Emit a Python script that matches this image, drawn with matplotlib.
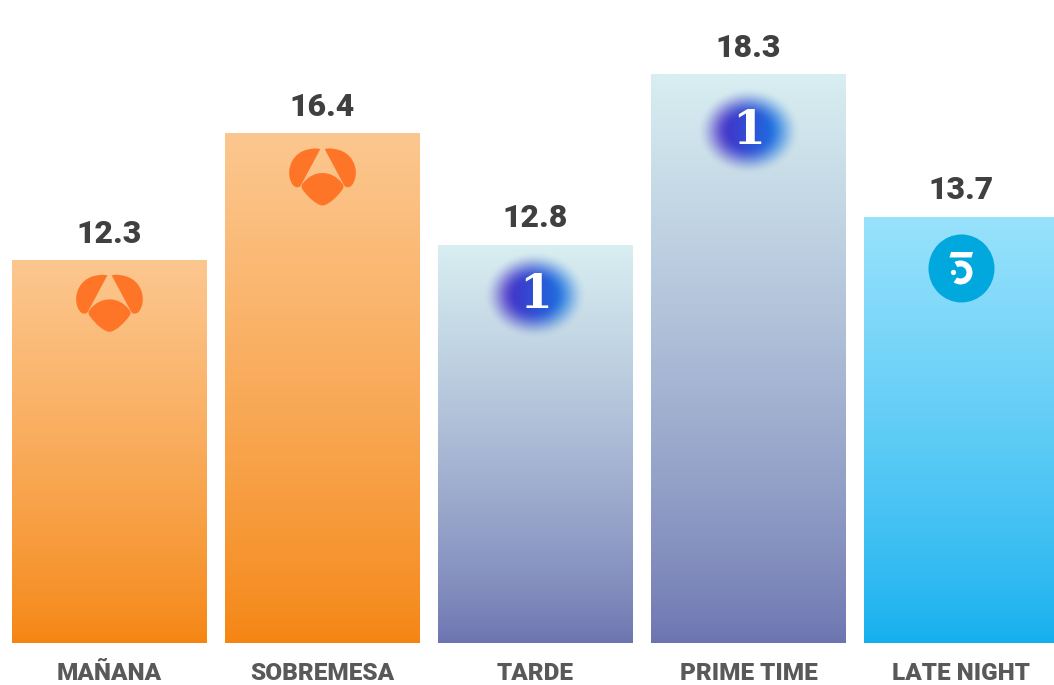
import numpy as np
import matplotlib
matplotlib.use("Agg")
import matplotlib.pyplot as plt
from matplotlib.path import Path
from matplotlib.patches import PathPatch, Ellipse, Wedge, Polygon, Circle

# datos
categories = ["MAÑANA", "SOBREMESA", "TARDE", "PRIME TIME", "LATE NIGHT"]
values = [12.3, 16.4, 12.8, 18.3, 13.7]
channels = ["antena3", "antena3", "la1", "la1", "telecinco"]

# colores del degradado (abajo, arriba) por cadena
grad_colors = {
    "antena3": ((245, 133, 18), (252, 199, 143)),
    "la1": ((108, 116, 176), (216, 238, 241)),
    "telecinco": ((20, 175, 238), (152, 226, 252)),
}
logo_drop = [42, 43, 50, 56, 51]  # px por debajo del borde superior de la barra

W, H = 1054, 685
fig = plt.figure(figsize=(W / 100, H / 100), dpi=100)
ax = fig.add_axes([0, 42 / H, 1, 643 / H])

x = np.arange(len(categories))
bw = 195 / 213
xlim = (-109.5 / 213, (W - 109.5) / 213)
ylim = (0, 643 / 31.06)


def gradient(c_bot, c_top, n=256, g=0.8):
    t = np.linspace(0, 1, n) ** g
    a = np.array(c_bot) / 255
    b = np.array(c_top) / 255
    return (a[None, :] + (b - a)[None, :] * t[:, None])[:, None, :]


for xi, v, ch in zip(x, values, channels):
    ax.imshow(gradient(*grad_colors[ch]), extent=[xi - bw / 2, xi + bw / 2, 0, v],
              origin="lower", aspect="auto", zorder=2, interpolation="bilinear")
    ax.annotate(f"{v:.1f}", (xi, v), xytext=(0, 13), textcoords="offset points",
                ha="center", va="baseline", fontsize=23, fontweight="black",
                family="Roboto", color="#404040")

ax.axhline(-0.06, color="#d9d9d9", lw=2.2, zorder=1)
ax.set_xlim(*xlim)
ax.set_ylim(*ylim)
ax.axis("off")

for xi, lab in zip(x, categories):
    ax.text(xi, -37 / 643, lab, transform=ax.get_xaxis_transform(), ha="center",
            va="baseline", fontsize=17.5, fontweight="black", family="Roboto",
            color="#595959")


def logo_axes(cx, cy, w, h):
    la = fig.add_axes([(cx - w / 2) / W, (cy - h / 2) / H, w / W, h / H])
    la.set_xlim(-w / 2, w / 2)
    la.set_ylim(-h / 2, h / 2)
    la.axis("off")
    la.patch.set_alpha(0)
    return la


def antena3(la):
    orange = "#ff7528"
    C, L = Path.CURVE4, Path.LINETO
    lobe = [(-2.2, 27.5), (-21.5, -8.5), (-23, -11.5), (-27, -11.5), (-29.5, -8.5),
            (-37, 1), (-34, 21), (-17, 26.5), (-10, 28.5), (-5, 28.5), (-2.2, 27.5)]
    codes = [Path.MOVETO, L, C, C, C, C, C, C, C, C, C]
    for s in (1, -1):
        verts = [(s * px, py) for px, py in lobe]
        la.add_patch(PathPatch(Path(verts, codes), fc=orange, ec="none"))
    shell = [(-19.5, -6.5), (-9, 7), (9, 7), (19.5, -6.5),
             (21.5, -8.5), (21.5, -11), (19.5, -13.5),
             (14, -21), (7, -27), (2, -28.5),
             (1, -29), (-1, -29), (-2, -28.5),
             (-7, -27), (-14, -21), (-19.5, -13.5),
             (-21.5, -11), (-21.5, -8.5), (-19.5, -6.5)]
    codes = [Path.MOVETO] + [C] * 18
    la.add_patch(PathPatch(Path(shell, codes), fc=orange, ec="none"))


def la1(la):
    w, h = 124, 108
    xx, yy = np.meshgrid(np.linspace(-w / 2, w / 2, 248), np.linspace(-h / 2, h / 2, 216))
    r = np.sqrt((xx / 52) ** 2 + (yy / 44) ** 2)
    s = np.clip((1.0 - r) / 0.65, 0, 1)
    alpha = s * s * (3 - 2 * s)
    t = np.clip((xx + 30) / 60, 0, 1)[..., None]
    left = np.array([70, 45, 200]) / 255
    right = np.array([25, 115, 225]) / 255
    rgb = left + (right - left) * t
    img = np.dstack([rgb, alpha])
    la.imshow(img, extent=[-w / 2, w / 2, -h / 2, h / 2], origin="lower",
              aspect="auto", interpolation="bilinear")
    la.set_xlim(-w / 2, w / 2)
    la.set_ylim(-h / 2, h / 2)
    la.text(0, 0, "1", ha="center", va="center", fontsize=34, fontweight="bold",
            family="DejaVu Serif", color="white")


def telecinco(la):
    la.add_patch(Ellipse((0, 0), 66, 68, fc="#00a8de", ec="none"))
    la.add_patch(Polygon([(-12, 11), (10, 11), (11.5, 16.5), (-10.5, 16.5)],
                         fc="white", ec="none"))
    la.add_patch(Wedge((-1, -4), 12, -125, 120, width=6, fc="white", ec="none"))
    la.add_patch(Circle((-8, -4), 2.6, fc="white", ec="none"))


for xi, v, ch, drop in zip(x, values, channels, logo_drop):
    cx, cy = ax.transData.transform((xi, v))
    cy -= drop
    if ch == "antena3":
        antena3(logo_axes(cx, cy, 76, 64))
    elif ch == "la1":
        la1(logo_axes(cx, cy, 124, 108))
    else:
        telecinco(logo_axes(cx, cy, 72, 72))

fig.savefig("out.png", dpi=100)
